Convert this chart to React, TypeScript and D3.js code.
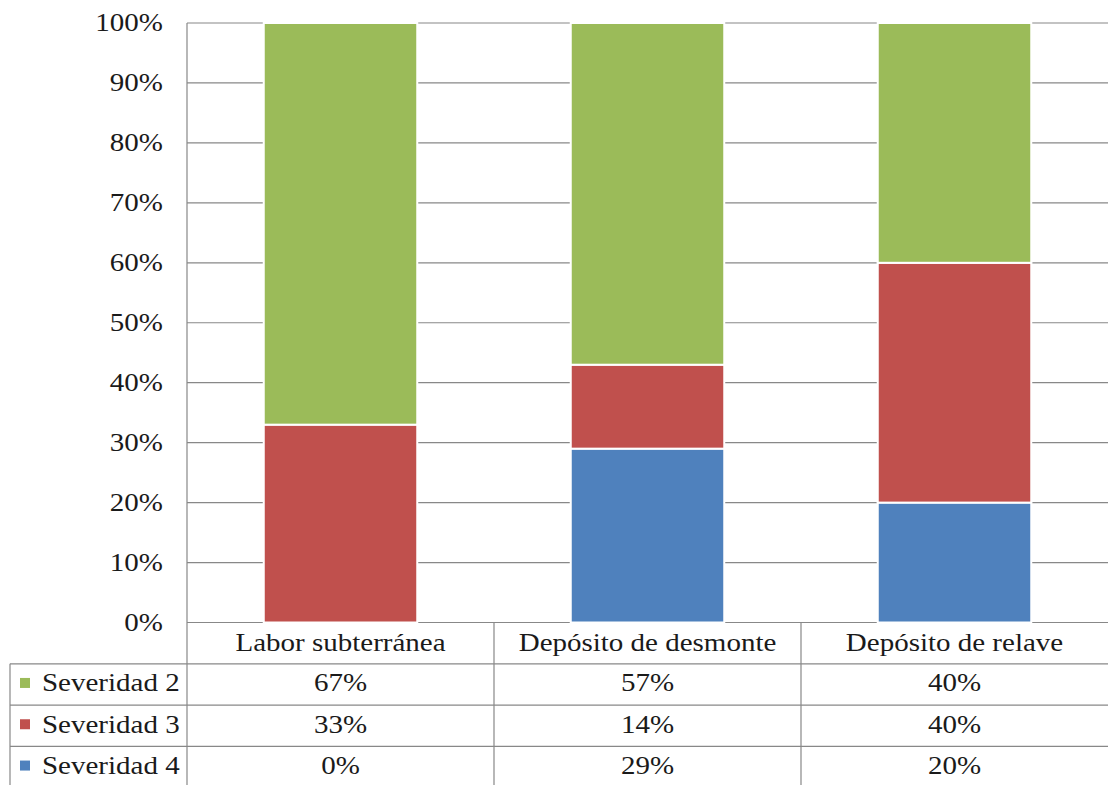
import React from "react";
import * as d3 from "d3";

const categories = ["Labor subterránea", "Depósito de desmonte", "Depósito de relave"];
const seriesNames = ["Severidad 2", "Severidad 3", "Severidad 4"];
const severidad2 = [67, 57, 40];
const severidad3 = [33, 14, 40];
const severidad4 = [0, 29, 20];
const yTicks = [0, 10, 20, 30, 40, 50, 60, 70, 80, 90, 100];
const colors: Record<string, string> = {
  "Severidad 2": "#9BBB59",
  "Severidad 3": "#C0504D",
  "Severidad 4": "#4F81BD",
};

const W = 1108;
const H = 785;
const plotLeft = 187;
const plotRight = 1108;
const plotTop = 23;
const plotBottom = 622.5;
const rowH = 41.3;
const tableLeft = 10;
const FONT = "Liberation Serif";
const FS = 25;
const SX = 1.16;
const GRID = "#888888";

type Row = { cat: string; [k: string]: number | string };

export default function App() {
  const rows: Row[] = categories.map((c, i) => ({
    cat: c,
    "Severidad 2": severidad2[i],
    "Severidad 3": severidad3[i],
    "Severidad 4": severidad4[i],
  }));
  const stackKeys = ["Severidad 4", "Severidad 3", "Severidad 2"];
  const stacked = d3.stack<Row>().keys(stackKeys).value((d, k) => d[k] as number)(rows);

  const x = d3
    .scaleBand<string>()
    .domain(categories)
    .range([plotLeft, plotRight])
    .paddingInner(0.5)
    .paddingOuter(0.25);
  const step = x.step();
  const y = d3.scaleLinear().domain([0, 100]).range([plotBottom, plotTop]);

  const txt = (
    label: string,
    tx: number,
    ty: number,
    anchor: "start" | "middle" | "end",
    key?: string
  ) => (
    <text
      key={key}
      transform={`translate(${tx},${ty}) scale(${SX},1)`}
      textAnchor={anchor}
      dominantBaseline="central"
      style={{ fontFamily: FONT, fontSize: FS }}
      fill="#1a1a1a"
    >
      {label}
    </text>
  );

  const colStart = (c: string) => (x(c) as number) - (step - x.bandwidth()) / 2;
  const rowTop = (i: number) => plotBottom + rowH * (i + 1);

  const seriesValues: Record<string, number[]> = {
    "Severidad 2": severidad2,
    "Severidad 3": severidad3,
    "Severidad 4": severidad4,
  };

  return (
    <svg
      width={W}
      height={H}
      style={{ position: "absolute", left: 0, top: 0, background: "#fff" }}
    >
      <rect width={W} height={H} fill="#fff" />
      {/* gridlines */}
      {yTicks.map((t) => (
        <line
          key={"g" + t}
          x1={plotLeft}
          x2={plotRight}
          y1={y(t)}
          y2={y(t)}
          stroke={GRID}
          strokeWidth={1.2}
        />
      ))}
      {/* y tick labels */}
      {yTicks.map((t) => txt(`${t}%`, 163, y(t), "end", "t" + t))}

      {/* stacked bars */}
      {stacked.map((s) => (
        <g key={s.key} fill={colors[s.key]}>
          {s.map((d, i) =>
            d[1] - d[0] > 0 ? (
              <rect
                key={i}
                x={x(d.data.cat as string)}
                width={x.bandwidth()}
                y={y(d[1])}
                height={y(d[0]) - y(d[1])}
                stroke="#ffffff"
                strokeWidth={2}
              />
            ) : null
          )}
        </g>
      ))}

      {/* data table */}
      <g stroke={GRID} strokeWidth={1.2}>
        <line x1={plotLeft} x2={plotLeft} y1={plotTop} y2={H + 5} />
        {categories.slice(1).map((c) => (
          <line key={"v" + c} x1={colStart(c)} x2={colStart(c)} y1={plotBottom} y2={H + 5} />
        ))}
        <line x1={tableLeft} x2={tableLeft} y1={rowTop(0)} y2={H + 5} />
        {seriesNames.map((_, i) => (
          <line key={"h" + i} x1={tableLeft} x2={plotRight} y1={rowTop(i)} y2={rowTop(i)} />
        ))}
      </g>
      {categories.map((c) =>
        txt(c, colStart(c) + step / 2, plotBottom + rowH / 2, "middle", "c" + c)
      )}
      {seriesNames.map((s, i) => {
        const cy = rowTop(i) + rowH / 2 - 1.5;
        return (
          <g key={"r" + s}>
            <rect x={20} y={cy - 5} width={10} height={10} fill={colors[s]} />
            {txt(s, 42, cy, "start")}
            {categories.map((c, j) =>
              txt(`${seriesValues[s][j]}%`, colStart(c) + step / 2, cy, "middle", s + c)
            )}
          </g>
        );
      })}
    </svg>
  );
}
